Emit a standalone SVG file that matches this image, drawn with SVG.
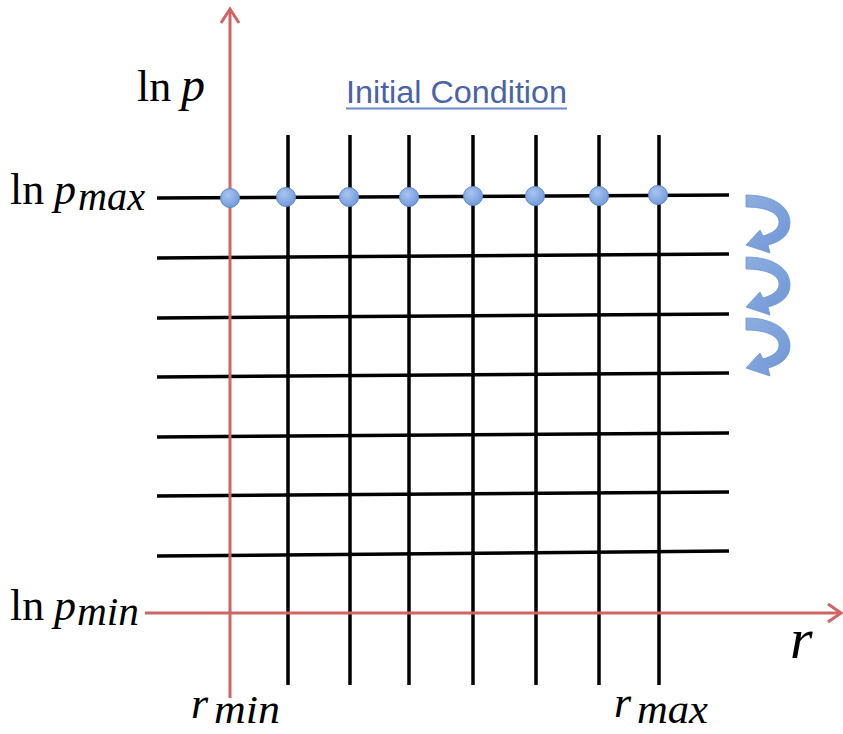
<svg xmlns="http://www.w3.org/2000/svg" width="843" height="734" viewBox="0 0 843 734">
<style>
.grid{stroke:#000;stroke-width:3.5;fill:none}
.axis{stroke:#cd6664;stroke-width:3;fill:none}
.dot{fill:url(#dg);stroke:#5e86c8;stroke-width:1}
.curl{fill:url(#cg);stroke:#5a86cc;stroke-width:0.8;opacity:0.88}
.m{font-family:"Liberation Serif","DejaVu Serif",serif;font-size:44px;fill:#000}
.i{font-style:italic}
.s{font-size:41px}
.t{font-family:"Liberation Sans",Arial,sans-serif;font-size:31px;fill:#4a62a8}
</style>
<defs>
<radialGradient id="dg" cx="0.4" cy="0.35" r="0.7">
<stop offset="0" stop-color="#a9c4ef"/>
<stop offset="1" stop-color="#6e98db"/>
</radialGradient>
<linearGradient id="cg" x1="0" y1="0" x2="1" y2="1">
<stop offset="0" stop-color="#7fa3dc"/>
<stop offset="1" stop-color="#5b88d0"/>
</linearGradient>
<path id="curlShape" d="M0,0 C28,0 44,12 44,28 C44,40 34,47 22,50 L24,58 L0,50 L14,35 L17,41 C27,38 33,34 33,27 C33,18 20,12 0,12 Z"/>
</defs>
<g id="grid-lines">
<line class="grid" x1="288" y1="135" x2="288" y2="685"/>
<line class="grid" x1="350" y1="135" x2="350" y2="685"/>
<line class="grid" x1="409" y1="135" x2="409" y2="685"/>
<line class="grid" x1="473" y1="135" x2="473" y2="685"/>
<line class="grid" x1="536" y1="135" x2="536" y2="685"/>
<line class="grid" x1="599" y1="135" x2="599" y2="685"/>
<line class="grid" x1="659" y1="135" x2="659" y2="685"/>
<line class="grid" x1="157" y1="198" x2="729" y2="195"/>
<line class="grid" x1="157" y1="258" x2="729" y2="254"/>
<line class="grid" x1="157" y1="318" x2="729" y2="314"/>
<line class="grid" x1="157" y1="377" x2="729" y2="373"/>
<line class="grid" x1="157" y1="437" x2="729" y2="433"/>
<line class="grid" x1="157" y1="496" x2="729" y2="492"/>
<line class="grid" x1="157" y1="556" x2="729" y2="551"/>
</g>
<g id="axes">
<line class="axis" x1="230" y1="10" x2="230" y2="698"/>
<polyline class="axis" points="221,23 230,9 239,23"/>
<line class="axis" x1="145" y1="613" x2="840" y2="613"/>
<polyline class="axis" points="828,604 841,613 828,622"/>
</g>
<g id="initial-points">
<circle class="dot" cx="230" cy="198" r="9.5"/>
<circle class="dot" cx="286" cy="197" r="9.5"/>
<circle class="dot" cx="349" cy="197" r="9.5"/>
<circle class="dot" cx="409" cy="197" r="9.5"/>
<circle class="dot" cx="473" cy="196" r="9.5"/>
<circle class="dot" cx="535" cy="196" r="9.5"/>
<circle class="dot" cx="599" cy="196" r="9.5"/>
<circle class="dot" cx="658" cy="195" r="9.5"/>
</g>
<g id="curl-arrows">
<use href="#curlShape" class="curl" transform="translate(746,195)"/>
<use href="#curlShape" class="curl" transform="translate(746,257)"/>
<use href="#curlShape" class="curl" transform="translate(746,318)"/>
</g>
<g id="title">
<text class="t" x="346" y="103" textLength="221" lengthAdjust="spacingAndGlyphs">Initial Condition</text>
<line x1="346" y1="108.5" x2="567" y2="108.5" stroke="#6a8bc8" stroke-width="2"/>
</g>
<g id="labels">
<text class="m" x="137" y="101">ln</text><text class="m i" x="181" y="101" style="font-size:48px">p</text>
<text class="m" x="10" y="204">ln</text><text class="m i" x="54" y="204">p</text><text class="m i s" x="78" y="210" textLength="67" lengthAdjust="spacingAndGlyphs">max</text>
<text class="m" x="10" y="620">ln</text><text class="m i" x="54" y="620">p</text><text class="m i s" x="77" y="625" textLength="62" lengthAdjust="spacingAndGlyphs">min</text>
<text class="m i" x="191" y="718">r</text><text class="m i s" x="214" y="723" textLength="66" lengthAdjust="spacingAndGlyphs">min</text>
<text class="m i" x="614" y="717">r</text><text class="m i s" x="637" y="723" textLength="71" lengthAdjust="spacingAndGlyphs">max</text>
<text class="m i" x="790" y="658" style="font-size:58px">r</text>
</g>
</svg>
